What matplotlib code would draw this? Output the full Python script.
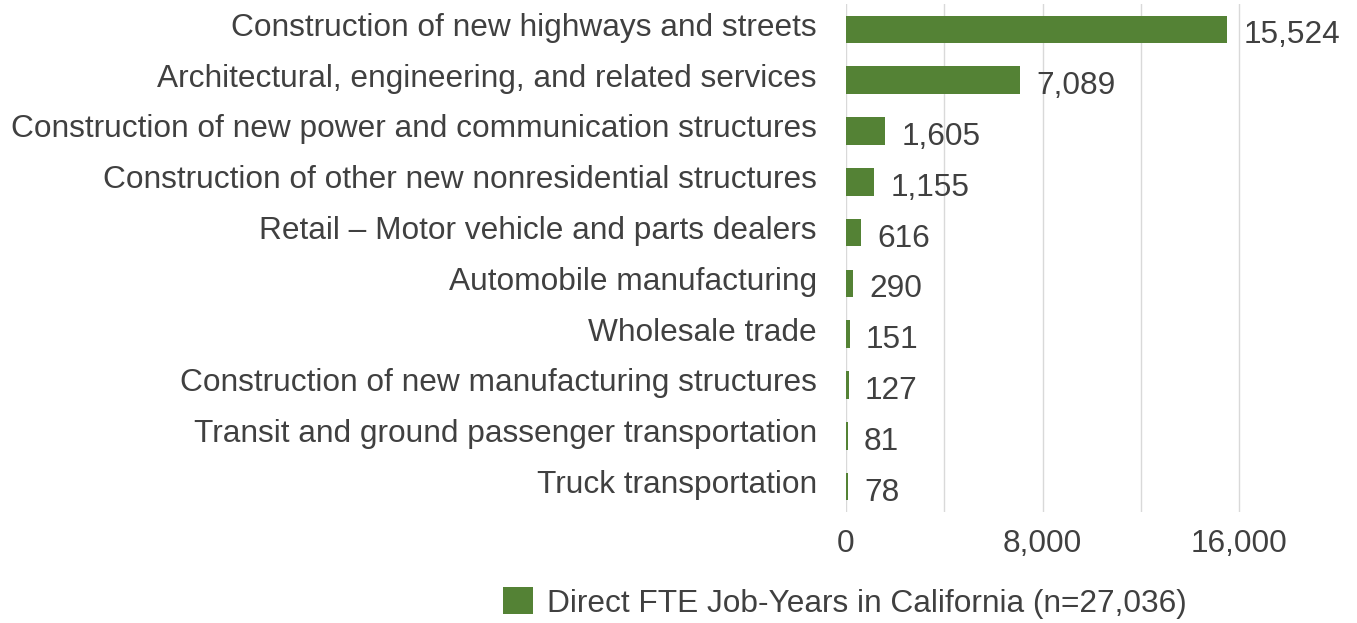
import matplotlib.pyplot as plt
import matplotlib.transforms as mtransforms
from matplotlib.ticker import MultipleLocator, FuncFormatter

plt.rcParams['font.family'] = ['Liberation Sans', 'DejaVu Sans']

categories = ['Construction of new highways and streets',
              'Architectural, engineering, and related services',
              'Construction of new power and communication structures',
              'Construction of other new nonresidential structures',
              'Retail \u2013 Motor vehicle and parts dealers',
              'Automobile manufacturing',
              'Wholesale trade',
              'Construction of new manufacturing structures',
              'Transit and ground passenger transportation',
              'Truck transportation']
values = [15524, 7089, 1605, 1155, 616, 290, 151, 127, 81, 78]
series_label = 'Direct FTE Job-Years in California (n=27,036)'

green = '#548235'
txt = '#404040'
fs = 22.8

fig = plt.figure(figsize=(13.57, 6.23), dpi=100)
ax = fig.add_axes([846/1357, 1-512/623, (1330-846)/1357, (512-4)/623])

ypos = list(range(len(categories)))
ax.barh(ypos, values, height=0.54, color=green, label=series_label, zorder=3)
ax.set_ylim(len(categories)-0.5, -0.5)
ax.set_xlim(0, 19700)

for y, v in zip(ypos, values):
    ax.text(v + 650, y + 0.05, f'{v:,}', va='center_baseline', ha='left', fontsize=fs, color=txt)

ax.set_yticks(ypos)
ax.set_yticklabels(categories, fontsize=fs, color=txt)
ax.tick_params(axis='y', length=0, pad=21)
# category labels sit a little above the bar centres
shift = mtransforms.ScaledTranslation(0, 5/100, fig.dpi_scale_trans)
for lab in ax.get_yticklabels():
    lab.set_transform(lab.get_transform() + shift)

ax.xaxis.set_major_locator(MultipleLocator(8000))
ax.xaxis.set_minor_locator(MultipleLocator(4000))
ax.xaxis.set_major_formatter(FuncFormatter(lambda x, p: f'{int(x):,}'))
ax.tick_params(axis='x', which='both', length=0, labelsize=fs, labelcolor=txt, pad=12)
ax.grid(axis='x', which='both', color='#d9d9d9', linewidth=1, zorder=0)
for s in ax.spines.values():
    s.set_visible(False)

fig.legend(loc='center', bbox_to_anchor=(845/1357, 1-603/623), frameon=False,
           fontsize=fs, labelcolor=txt, handlelength=0.94, handleheight=0.94,
           handletextpad=0.47)

fig.savefig('out.png', dpi=100)
